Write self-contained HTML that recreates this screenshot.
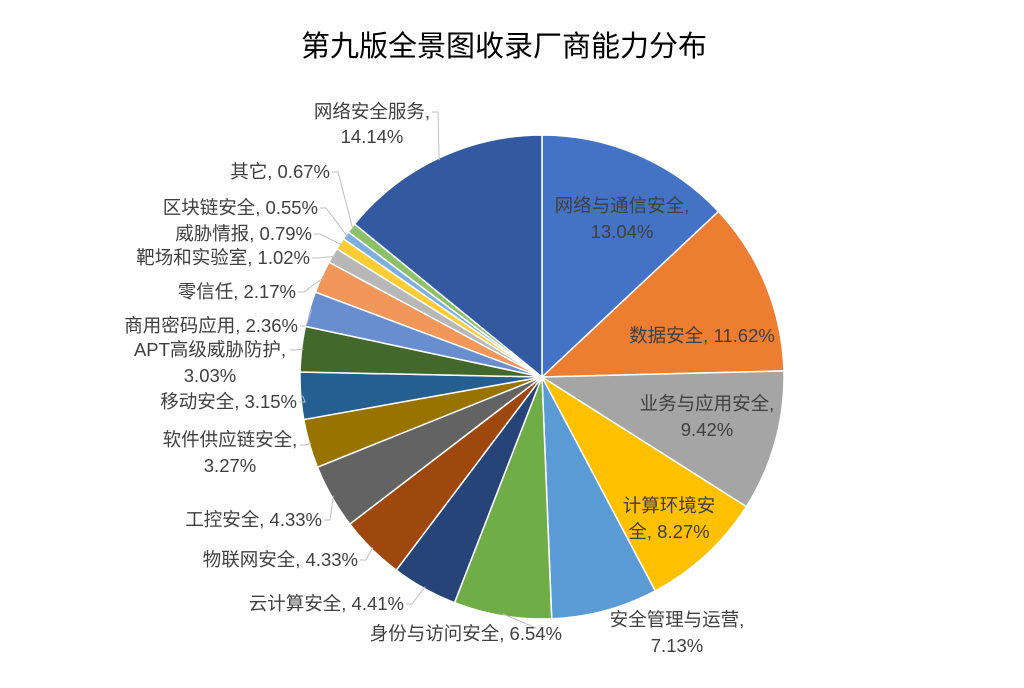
<!DOCTYPE html>
<html><head><meta charset="utf-8"><style>
body{margin:0;background:#fff;}
svg text{font-family:"Liberation Sans","Noto Sans CJK SC",sans-serif;font-size:18.5px;fill:#404040;}
</style></head><body>
<svg width="1024" height="683" viewBox="0 0 1024 683">
<text x="504" y="56" text-anchor="middle" style="font-size:29px;fill:#000">第九版全景图收录厂商能力分布</text>
<g id="slices"></g><g id="labels"></g>
</svg>
<script>
const categories=["网络与通信安全","数据安全","业务与应用安全","计算环境安全","安全管理与运营","身份与访问安全","云计算安全","物联网安全","工控安全","软件供应链安全","移动安全","APT高级威胁防护","商用密码应用","零信任","靶场和实验室","威胁情报","区块链安全","其它","网络安全服务"];
const values=[13.04,11.62,9.42,8.27,7.13,6.54,4.41,4.33,4.33,3.27,3.15,3.03,2.36,2.17,1.02,0.79,0.55,0.67,14.14];
const colors=["#4472C4","#ED7D31","#A5A5A5","#FFC000","#5B9BD5","#70AD47","#264478","#9E480E","#636363","#997300","#255E91","#43682B","#698ED0","#F1975A","#B7B7B7","#FFCD33","#7CAFDD","#8CC168","#335AA1"];
const layout=[
 [[["网络与通信安全,",622,212,"middle"],["13.04%",622,238,"middle"]],null],
 [[["数据安全, 11.62%",702,342,"middle"]],null],
 [[["业务与应用安全,",707,410,"middle"],["9.42%",707,436,"middle"]],null],
 [[["计算环境安",669,512,"middle"],["全, 8.27%",669,538,"middle"]],null],
 [[["安全管理与运营,",677,626,"middle"],["7.13%",677,652,"middle"]],null],
 [[["身份与访问安全, 6.54%",562,640,"end"]],[530,628]],
 [[["云计算安全, 4.41%",404,610,"end"]],[406,604]],
 [[["物联网安全, 4.33%",358,566,"end"]],[360,560]],
 [[["工控安全, 4.33%",322,526,"end"]],[324,520]],
 [[["软件供应链安全,",230,446,"middle"],["3.27%",230,472,"middle"]],[300,445]],
 [[["移动安全, 3.15%",297,408,"end"]],[299,402]],
 [[["APT高级威胁防护,",210,356,"middle"],["3.03%",210,382,"middle"]],[290,350]],
 [[["商用密码应用, 2.36%",298,332,"end"]],[300,326]],
 [[["零信任, 2.17%",296,298,"end"]],[298,292]],
 [[["靶场和实验室, 1.02%",310,264,"end"]],[312,258]],
 [[["威胁情报, 0.79%",312,240,"end"]],[314,234]],
 [[["区块链安全, 0.55%",318,214,"end"]],[320,208]],
 [[["其它, 0.67%",330,178,"end"]],[332,172]],
 [[["网络安全服务,",372,118,"middle"],["14.14%",372,143,"middle"]],[432,112]]
];
const cx=542,cy=377,R=242,NS="http://www.w3.org/2000/svg";
const total=values.reduce((a,b)=>a+b,0);
const gS=document.getElementById('slices'),gL=document.getElementById('labels');
function pt(a,r){return [cx+r*Math.sin(a),cy-r*Math.cos(a)];}
let a0=0;
values.forEach((v,i)=>{
 const a1=a0+v/total*2*Math.PI;
 const p0=pt(a0,R),p1=pt(a1,R);
 const p=document.createElementNS(NS,'path');
 p.setAttribute('d',`M${cx},${cy}L${p0[0]},${p0[1]}A${R},${R} 0 ${a1-a0>Math.PI?1:0} 1 ${p1[0]},${p1[1]}Z`);
 p.setAttribute('fill',colors[i]);p.setAttribute('stroke','#fff');p.setAttribute('stroke-width','1.5');
 
 
 gS.appendChild(p);
 const L=layout[i];
 if(L[1]){const m=pt((a0+a1)/2,R-2);
  const ln=document.createElementNS(NS,'polyline');
  ln.setAttribute('points',`${L[1][0]},${L[1][1]} ${L[1][0]+6},${L[1][1]} ${m[0]},${m[1]}`);
  ln.setAttribute('fill','none');ln.setAttribute('stroke','#bfbfbf');
  
  
  gL.appendChild(ln);}
 L[0].forEach(t=>{const tx=document.createElementNS(NS,'text');
  tx.setAttribute('x',t[1]);tx.setAttribute('y',t[2]);tx.setAttribute('text-anchor',t[3]);tx.textContent=t[0];
  
  
  gL.appendChild(tx);});
 a0=a1;
});
</script>
</body></html>
